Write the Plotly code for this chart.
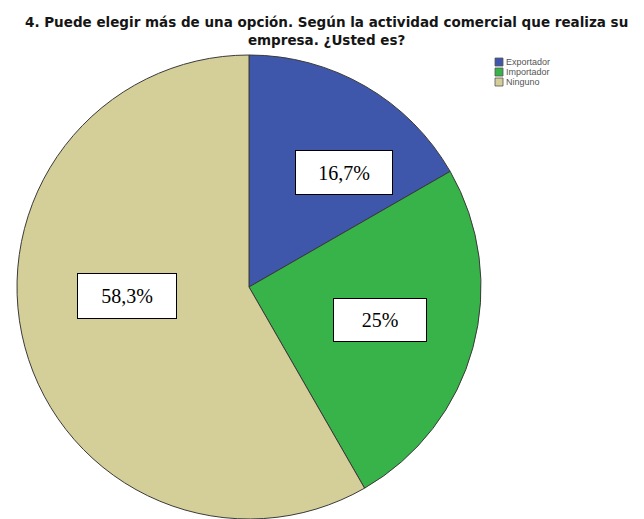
import plotly.graph_objects as go

# Survey answers: type of commercial activity of the company
categories = ["Exportador", "Importador", "Ninguno"]
percentages = [16.7, 25.0, 58.3]
slice_colors = ["#3F57AB", "#38B34A", "#D4CE98"]

title_lines = [
    "4. Puede elegir más de una opción. Según la actividad comercial que realiza su",
    "empresa. ¿Usted es?",
]

W, H = 644, 519
pie_r = 232
cx, cy = 249, 287

# Label box centres (pixels from top-left) and box sizes
label_px = [(344, 172), (380, 320), (127, 296)]
label_size = [(96, 43), (92, 42), (98, 44)]


def fmt_pct(v):
    if float(v).is_integer():
        return f"{int(v)}%"
    return f"{v:.1f}".replace(".", ",") + "%"


def px(x):
    return x / W


def py(y):
    return 1 - y / H


fig = go.Figure()
fig.add_trace(go.Pie(
    labels=categories,
    values=percentages,
    sort=False,
    direction="clockwise",
    rotation=0,
    textinfo="none",
    hoverinfo="label+percent",
    showlegend=False,
    marker=dict(colors=slice_colors, line=dict(color="#3a3a3a", width=1)),
    domain=dict(x=[px(cx - pie_r), px(cx + pie_r)],
                y=[py(cy + pie_r), py(cy - pie_r)]),
))

# Value boxes
for v, (x, y), (w, h) in zip(percentages, label_px, label_size):
    fig.add_annotation(
        x=px(x), y=py(y), xref="paper", yref="paper",
        text=fmt_pct(v), showarrow=False,
        font=dict(family="Liberation Serif, Times New Roman, serif", size=20, color="#000000"),
        bgcolor="#FFFFFF", bordercolor="#000000", borderwidth=1, borderpad=0,
        width=w, height=h, align="center", valign="middle",
        xanchor="center", yanchor="middle",
    )

# Two-line title
fig.add_annotation(
    x=px(326), y=py(31), xref="paper", yref="paper",
    text="<br>".join(f"<b>{line}</b>" for line in title_lines),
    showarrow=False, align="center",
    font=dict(family="DejaVu Sans, sans-serif", size=13.5, color="#151515"),
    xanchor="center", yanchor="middle", borderpad=0,
)

# Compact legend: swatches and names
for i, (name, col) in enumerate(zip(categories, slice_colors)):
    yc = 62 + 10 * i
    fig.add_shape(
        type="rect", xref="paper", yref="paper",
        x0=px(495), x1=px(503), y0=py(yc + 4), y1=py(yc - 4),
        fillcolor=col, line=dict(color="#555555", width=0.8),
    )
    fig.add_annotation(
        x=px(505), y=py(yc), xref="paper", yref="paper",
        text=name, showarrow=False,
        font=dict(family="Liberation Sans, Arial, sans-serif", size=9, color="#555555"),
        xanchor="left", yanchor="middle", borderpad=0,
    )

fig.update_layout(
    width=W, height=H,
    margin=dict(l=0, r=0, t=0, b=0),
    paper_bgcolor="#FFFFFF",
    plot_bgcolor="#FFFFFF",
    showlegend=False,
)

fig.write_html("out.html")
